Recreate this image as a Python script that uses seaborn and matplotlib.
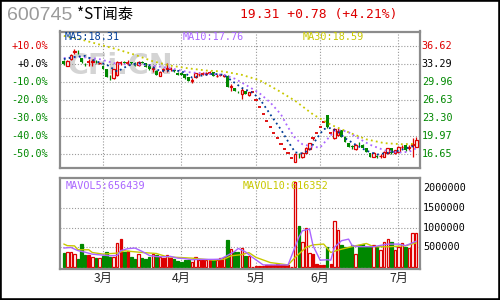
import matplotlib
matplotlib.use("Agg")
import matplotlib.pyplot as plt
from matplotlib.patches import Rectangle
import seaborn as sns

# ---------------- data ----------------
OPEN = [33.91, 32.99, 34.22, 35.60, 35.60, 34.46, 33.30, 33.73, 33.70, 33.90,
        33.40, 32.99, 32.37, 30.70, 30.65, 31.27, 33.50, 33.70, 33.40, 33.60,
        33.55, 33.10, 33.70, 33.42, 32.93, 32.30, 32.07, 31.08, 32.20, 32.30,
        32.40, 32.20, 31.70, 31.60, 31.45, 30.84, 30.20, 30.84, 31.40, 31.45,
        31.45, 31.70, 31.76, 31.10, 31.20, 31.14, 31.08, 29.10, 28.80, 28.20,
        27.70, 28.30, 27.50, 28.07, 26.66, 25.33, 24.06, 22.86, 21.72, 20.63,
        19.60, 18.62, 17.69, 16.81, 15.97, 15.17, 16.40, 16.08, 16.92, 17.55,
        19.60, 20.58, 21.61, 22.69, 23.82, 20.65, 19.59, 20.20, 21.12, 19.89,
        18.66, 18.10, 17.62, 18.60, 18.36, 17.74, 16.82, 16.20, 16.30, 16.25,
        16.20, 16.82, 17.74, 16.82, 17.13, 17.95, 18.36, 17.80, 18.30, 18.05]
HIGH = [34.00, 34.00, 35.10, 36.06, 35.90, 34.50, 33.40, 34.16, 34.20, 33.95,
        33.70, 33.10, 32.40, 31.26, 32.40, 33.90, 33.90, 33.90, 34.00, 33.70,
        33.60, 33.90, 33.80, 33.50, 33.00, 33.00, 32.20, 32.00, 32.50, 33.50,
        32.70, 32.40, 31.80, 31.70, 31.50, 30.90, 30.65, 31.70, 31.90, 31.80,
        31.80, 32.00, 31.90, 31.40, 31.50, 31.50, 31.20, 29.60, 28.90, 28.40,
        28.80, 28.40, 28.20, 28.07, 26.66, 25.33, 24.06, 22.86, 21.72, 20.63,
        19.60, 18.62, 17.69, 16.81, 15.97, 16.90, 16.80, 17.10, 18.00, 18.70,
        19.60, 20.58, 21.61, 22.69, 23.82, 20.65, 21.55, 21.55, 21.20, 19.95,
        18.70, 18.40, 18.50, 18.90, 18.45, 17.80, 16.90, 17.00, 16.50, 16.70,
        17.20, 17.80, 17.80, 17.50, 18.10, 18.30, 18.40, 18.30, 19.58, 19.90]
LOW = [33.10, 32.90, 34.10, 35.14, 35.08, 33.50, 32.99, 32.93, 33.00, 33.40,
       33.30, 32.30, 30.90, 30.40, 30.50, 31.10, 33.10, 33.30, 33.10, 33.30,
       32.90, 33.00, 33.40, 32.70, 32.20, 31.90, 31.20, 31.00, 31.90, 31.90,
       32.00, 31.80, 31.20, 31.20, 30.60, 30.10, 29.85, 30.70, 31.10, 31.20,
       31.30, 31.40, 31.00, 30.90, 31.00, 30.90, 29.00, 28.40, 28.30, 27.90,
       26.90, 27.70, 27.40, 28.07, 26.66, 25.33, 24.06, 22.86, 21.72, 20.63,
       19.60, 18.62, 17.69, 16.81, 15.97, 15.17, 16.00, 15.90, 16.80, 17.40,
       19.20, 20.58, 21.61, 22.69, 21.50, 20.65, 19.50, 20.00, 19.80, 18.90,
       17.95, 17.70, 17.50, 18.20, 17.80, 17.05, 16.15, 16.10, 16.00, 16.00,
       16.10, 16.70, 16.70, 16.70, 17.00, 17.60, 17.30, 17.50, 16.20, 18.00]
CLOSE = [33.23, 33.91, 34.96, 35.70, 35.50, 33.60, 33.23, 33.73, 33.80, 33.80,
         33.50, 32.37, 30.96, 30.65, 32.30, 33.73, 33.50, 33.50, 33.40, 33.45,
         32.93, 33.73, 33.55, 32.80, 32.32, 32.50, 31.27, 31.88, 32.20, 32.50,
         32.40, 32.00, 31.27, 31.30, 30.65, 30.22, 30.35, 31.58, 31.45, 31.45,
         31.55, 31.70, 31.09, 31.15, 31.20, 31.20, 29.12, 29.20, 28.38, 28.10,
         28.50, 27.80, 28.07, 28.07, 26.66, 25.33, 24.06, 22.86, 21.72, 20.63,
         19.60, 18.62, 17.69, 16.81, 15.97, 16.69, 16.33, 16.94, 17.80, 18.66,
         19.60, 20.58, 21.61, 22.69, 21.74, 20.65, 21.30, 20.94, 19.89, 18.97,
         18.05, 18.05, 18.36, 18.54, 17.86, 17.13, 16.20, 16.94, 16.20, 16.33,
         17.13, 17.74, 16.82, 17.43, 18.05, 18.05, 17.43, 17.90, 18.53, 19.31]
VOLUME = [358, 391, 391, 332, 213, 594, 315, 315, 264, 240,
          240, 290, 391, 264, 264, 620, 721, 374, 416, 264,
          213, 332, 240, 197, 248, 323, 307, 256, 222, 315,
          230, 205, 171, 146, 180, 180, 137, 264, 180, 180,
          180, 180, 180, 188, 222, 248, 696, 467, 391, 391,
          475, 289, 289, 0, 35, 35, 35, 52, 52, 52,
          86, 52, 52, 52, 15, 2150, 1050, 627, 982, 348,
          323, 86, 70, 70, 500, 86, 1160, 941, 560, 517,
          517, 560, 332, 560, 585, 517, 517, 560, 517, 433,
          643, 713, 643, 433, 517, 610, 517, 475, 855, 855]  # thousand shares

MA5_X = [0, 3, 6, 9, 12, 15, 18, 21, 24, 27, 30, 33, 36, 39, 42, 45, 47, 50, 53,
         55, 58, 61, 63, 65, 67, 69, 71, 73, 75, 77, 79, 82, 85, 88, 91, 94, 97, 99]
MA5_Y = [34.2, 34.6, 34.8, 33.8, 33.2, 31.9, 33.0, 33.5, 33.1, 32.0, 32.1, 32.0, 30.8,
         31.2, 31.5, 31.3, 30.3, 28.9, 28.0, 26.9, 24.0, 21.2, 19.0, 17.0, 16.8, 17.4,
         19.5, 21.3, 21.5, 20.8, 19.6, 18.4, 17.3, 16.6, 16.9, 17.3, 17.9, 18.31]
MA10_X = [0, 5, 10, 15, 20, 25, 30, 35, 40, 45, 48, 51, 55, 58, 61, 63, 65, 67, 70,
          72, 74, 76, 78, 80, 83, 86, 90, 94, 97, 99]
MA10_Y = [34.4, 34.6, 34.2, 33.3, 33.2, 33.0, 32.5, 31.8, 31.5, 31.3, 30.6, 29.5, 27.9,
          26.2, 24.0, 21.6, 19.6, 18.5, 18.0, 17.9, 19.4, 20.9, 21.1, 20.7, 19.5, 18.4,
          17.4, 16.95, 17.1, 17.76]
MA30_X = [0, 5, 10, 15, 20, 25, 30, 35, 40, 45, 50, 55, 60, 65, 70, 75, 80, 85, 90, 95, 99]
MA30_Y = [38.5, 37.8, 36.9, 36.0, 35.0, 33.8, 33.0, 32.5, 32.1, 31.9, 31.3, 30.3, 28.5,
          26.5, 24.0, 22.1, 20.7, 19.4, 18.7, 18.5, 18.59]

MAVOL5_X = [0, 2, 4, 6, 8, 10, 13, 15, 16, 18, 20, 22, 24, 26, 28, 30, 32, 34, 36, 38,
            40, 42, 44, 46, 48, 49, 51, 53, 56, 63, 64, 66, 67, 69, 70, 72, 74, 75, 76,
            78, 80, 81, 83, 87, 91, 94, 96, 99]
MAVOL5_Y = [485, 500, 420, 380, 330, 315, 290, 300, 420, 470, 485, 400, 300, 270, 265,
            275, 230, 220, 190, 200, 200, 200, 205, 300, 400, 475, 390, 250, 60, 60, 290,
            750, 920, 965, 550, 180, 190, 180, 500, 670, 710, 545, 520, 520, 585, 585,
            545, 656.439]
MAVOL10_X = [0, 1, 3, 4, 7, 8, 11, 15, 17, 22, 26, 29, 36, 42, 45, 47, 50, 52, 54, 58,
             63, 65, 68, 70, 73, 75, 77, 82, 85, 87, 91, 96, 99]
MAVOL10_Y = [586, 545, 540, 442, 442, 373, 332, 358, 416, 373, 348, 264, 231, 180, 205,
             290, 320, 370, 250, 120, 60, 250, 500, 565, 586, 373, 434, 543, 600, 520,
             517, 543, 616.352]

MONTH_POS = [11, 33, 54, 72, 94]
MONTH_LABELS = ["3月", "4月", "5月", "6月", "7月"]
BASE_PRICE = 33.29
PRICE_TICKS = [36.62, 33.29, 29.96, 26.63, 23.30, 19.97, 16.65]
VOL_TICKS = [2000000, 1500000, 1000000, 500000]
VOL_GRID = [500000, 1000000, 1500000]
CODE = "600745"
NAME = "*ST闻泰"

# ---------------- styling ----------------
RED = "#dd0000"
GREEN = "#008800"
BLUE = "#003c96"
PURPLE = "#aa66ff"
YELLOW = "#c8c800"
GRID = "#9a9a9a"
FRAME = "#8c8c8c"
MONO = "DejaVu Sans Mono"
CJK = ["Noto Sans CJK SC", "DejaVu Sans"]

sns.set_style("white")
plt.rcParams["font.family"] = CJK

W, H = 500, 300
fig = plt.figure(figsize=(5, 3), dpi=100)
fig.patch.set_facecolor("white")

def fx(px):
    return px / W

def fy(py):
    return 1 - py / H

ax = fig.add_axes([fx(60), fy(168), fx(360), (168 - 31.5) / H])
axv = fig.add_axes([fx(60), fy(268.5), fx(360), (268.5 - 178) / H])

n = len(CLOSE)
xs = list(range(n))
for a in (ax, axv):
    a.set_xlim(-1.07, 100.06)
    a.set_xticks([])
    a.set_yticks([])
    for s in a.spines.values():
        s.set_color(FRAME)
        s.set_linewidth(1.6)
ax.set_ylim(14.11, 39.30)
axv.set_ylim(-30000, 2250000)

dot = (0, (1, 1.6))
# grid
ax.hlines(PRICE_TICKS, -1.07, 100.06, colors=GRID, linewidth=0.8, linestyles=[dot], zorder=1)
ax.vlines(MONTH_POS, 14.11, 39.30, colors=GRID, linewidth=0.8, linestyles=[dot], zorder=1)
axv.hlines(VOL_GRID, -1.07, 100.06, colors=GRID, linewidth=0.8, linestyles=[dot], zorder=1)
axv.vlines(MONTH_POS, -30000, 2250000, colors=GRID, linewidth=0.8, linestyles=[dot], zorder=1)

# watermark
ax.text(fx(0) + (68 - 60) / 360, (168 - 66) / 136.5, "CFi.CN", transform=ax.transAxes,
        fontsize=20.5, fontweight="bold", color="#d4d4d4", family="DejaVu Sans",
        ha="left", va="center", zorder=0.5)

# candles
wick_col = [RED if c >= o else GREEN for o, c in zip(OPEN, CLOSE)]
ax.vlines(xs, LOW, HIGH, colors=wick_col, linewidth=0.9, zorder=2)
up = [i for i in xs if CLOSE[i] > OPEN[i]]
dn = [i for i in xs if CLOSE[i] < OPEN[i]]
eq = [i for i in xs if CLOSE[i] == OPEN[i]]
ax.bar(up, [CLOSE[i] - OPEN[i] for i in up], bottom=[OPEN[i] for i in up], width=0.72,
       facecolor="white", edgecolor=RED, linewidth=0.9, zorder=3)
ax.bar(dn, [OPEN[i] - CLOSE[i] for i in dn], bottom=[CLOSE[i] for i in dn], width=0.8,
       color=GREEN, linewidth=0, zorder=3)
ax.hlines([CLOSE[i] for i in eq], [i - 0.45 for i in eq], [i + 0.45 for i in eq],
          colors=RED, linewidth=1.3, zorder=3)

# moving averages (dotted)
for mx, my, col in ((MA30_X, MA30_Y, YELLOW), (MA10_X, MA10_Y, PURPLE), (MA5_X, MA5_Y, BLUE)):
    sns.lineplot(x=mx, y=my, ax=ax, color=col, linewidth=1.3, linestyle=(0, (1, 1.8)),
                 legend=False, zorder=4)

# volume bars
vols = [v * 1000 for v in VOLUME]
fc = []
ec = []
for i in xs:
    if CLOSE[i] > OPEN[i]:
        fc.append("white"); ec.append(RED)
    elif CLOSE[i] < OPEN[i]:
        fc.append(GREEN); ec.append(GREEN)
    else:
        fc.append(RED); ec.append(RED)
axv.bar(xs, vols, width=0.7, facecolor=fc, edgecolor=ec, linewidth=0.9, zorder=2)
sns.lineplot(x=MAVOL10_X, y=[v * 1000 for v in MAVOL10_Y], ax=axv, color=YELLOW,
             linewidth=1.0, legend=False, zorder=3)
sns.lineplot(x=MAVOL5_X, y=[v * 1000 for v in MAVOL5_Y], ax=axv, color=PURPLE,
             linewidth=1.0, legend=False, zorder=3)
ax.set_xlabel(""); ax.set_ylabel(""); axv.set_xlabel(""); axv.set_ylabel("")
ax.set_xlim(-1.07, 100.06); axv.set_xlim(-1.07, 100.06)
ax.set_ylim(14.11, 39.30); axv.set_ylim(-30000, 2250000)

# axis labels
ytr = ax.get_yaxis_transform()
for p in PRICE_TICKS:
    pct = (p / BASE_PRICE - 1) * 100
    col = RED if pct > 0.05 else ("black" if abs(pct) <= 0.05 else GREEN)
    lab = f"{pct:+.1f}%"
    if abs(pct) <= 0.05:
        lab = "+0.0%"
    ax.text(-12 / 360, p, lab, transform=ytr, ha="right", va="center",
            fontsize=7.3, family=MONO, color=col)
    ax.text(1 + 1.8 / 360, p, f"{p:.2f}", transform=ytr, ha="left", va="center",
            fontsize=7.3, family=MONO, color=col)
vtr = axv.get_yaxis_transform()
for v in VOL_TICKS:
    axv.text(1 + 3 / 360, v, f"{v}", transform=vtr, ha="left", va="center",
             fontsize=7.3, family=MONO, color="black")

axv.set_xticks(MONTH_POS, MONTH_LABELS)
axv.tick_params(axis="x", length=0, pad=2.5, labelsize=8.8)
for t in axv.get_xticklabels():
    t.set_family(CJK)

# legends
ax.text(5 / 360, (168 - 37.5) / 136.5, f"MA5:{MA5_Y[-1]:.2f}", transform=ax.transAxes,
        fontsize=7.3, family=MONO, color=BLUE, va="center", ha="left", zorder=6)
ax.text(123 / 360, (168 - 37.5) / 136.5, f"MA10:{MA10_Y[-1]:.2f}", transform=ax.transAxes,
        fontsize=7.3, family=MONO, color=PURPLE, va="center", ha="left", zorder=6)
ax.text(243 / 360, (168 - 37.5) / 136.5, f"MA30:{MA30_Y[-1]:.2f}", transform=ax.transAxes,
        fontsize=7.3, family=MONO, color=YELLOW, va="center", ha="left", zorder=6)
axv.text(6 / 360, (268.5 - 186) / 90.5, f"MAVOL5:{round(MAVOL5_Y[-1] * 1000)}",
         transform=axv.transAxes, fontsize=7.3, family=MONO, color=PURPLE,
         va="center", ha="left", zorder=6)
axv.text(183 / 360, (268.5 - 186) / 90.5, f"MAVOL10:{round(MAVOL10_Y[-1] * 1000)}",
         transform=axv.transAxes, fontsize=7.3, family=MONO, color=YELLOW,
         va="center", ha="left", zorder=6)

# header
last, prev = CLOSE[-1], CLOSE[-2]
chg = last - prev
fig.text(fx(7), fy(15.5), CODE, fontsize=14, family="Liberation Sans", color="#9a9a9a",
         ha="left", va="center")
fig.text(fx(77), fy(14.5), NAME, fontsize=11, family=CJK, color="black",
         ha="left", va="center")
fig.text(fx(240), fy(14.5), f"{last:.2f} {chg:+.2f} ({chg / prev * 100:+.2f}%)",
         fontsize=9.4, family=MONO, color=RED, ha="left", va="center")

# outer frame
fig.add_artist(Rectangle((0, 0), 1, 1, transform=fig.transFigure, fill=False,
                         edgecolor="black", linewidth=2.6))

fig.savefig("out.png", dpi=100)
